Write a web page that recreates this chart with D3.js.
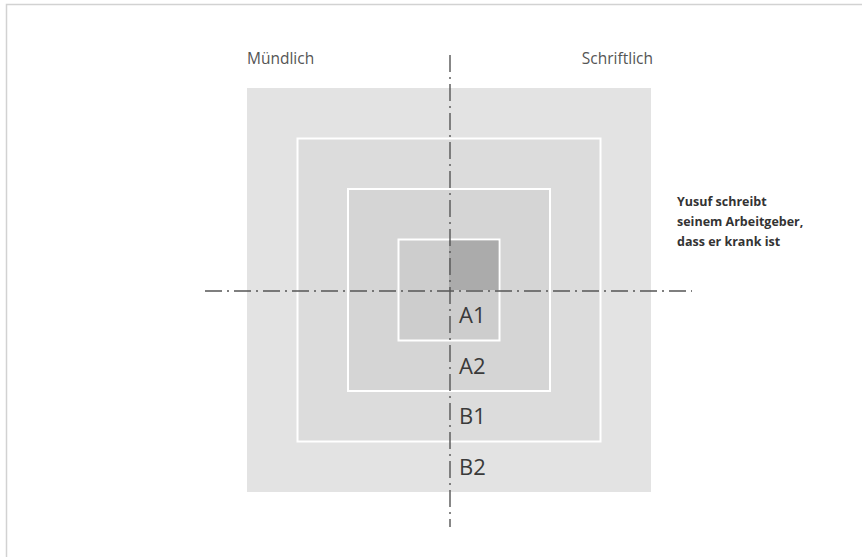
<!DOCTYPE html>
<html><head><meta charset="utf-8">
<script src="https://cdn.jsdelivr.net/npm/d3@7"></script>
<style>body{margin:0;background:#fff}svg{display:block}</style>
</head><body>
<script>
const levels = ["A1", "A2", "B1", "B2"];
const levelColors = ["#cdcdcd", "#d5d5d5", "#dcdcdc", "#e3e3e3"];
const axisLabels = ["Mündlich", "Schriftlich"];
const noteLines = ["Yusuf schreibt", "seinem Arbeitgeber,", "dass er krank ist"];
const highlight = {level: "A1", quadrant: "oben-rechts", color: "#ababab"};

const W = 862, H = 557;
const cx = 449, cy = 290;
const svg = d3.select("body").append("svg").attr("width", W).attr("height", H);

// frame
svg.append("path").attr("d", `M6.5,${H} V4.5 H${W}`).attr("fill", "none").attr("stroke", "#d2d2d2").attr("stroke-width", 1.5);

const r = d3.scaleLinear().domain([0, levels.length]).range([0, 202]);
const font = "'Open Sans', Lato, sans-serif";

const order = levels.map((d, i) => ({name: d, i, color: levelColors[i]})).reverse();
svg.selectAll("rect.level").data(order).join("rect").attr("class", "level")
  .attr("x", d => cx - r(d.i + 1)).attr("y", d => cy - r(d.i + 1))
  .attr("width", d => 2 * r(d.i + 1)).attr("height", d => 2 * r(d.i + 1))
  .attr("fill", d => d.color)
  .attr("stroke", d => d.i === levels.length - 1 ? "none" : "#fff").attr("stroke-width", 2);

// highlighted quadrant
const hi = levels.indexOf(highlight.level);
svg.append("rect").attr("x", cx).attr("y", cy - r(hi + 1) + 1)
  .attr("width", r(hi + 1) - 1).attr("height", r(hi + 1) - 1).attr("fill", highlight.color);

// dash-dot axes
const dash = "17,5,2,5";
svg.append("line").attr("x1", cx + 1).attr("x2", cx + 1).attr("y1", 55).attr("y2", 527)
  .attr("stroke", "#555").attr("stroke-width", 1.4).attr("stroke-dasharray", dash);
svg.append("line").attr("x1", 205).attr("x2", 692).attr("y1", cy + 1).attr("y2", cy + 1)
  .attr("stroke", "#555").attr("stroke-width", 1.4).attr("stroke-dasharray", dash);

// level labels
svg.selectAll("text.lvl").data(levels.map((d, i) => ({name: d, i}))).join("text").attr("class", "lvl")
  .attr("x", cx + 10).attr("y", d => cy + (r(d.i) + r(d.i + 1)) / 2 - 1)
  .attr("dominant-baseline", "central")
  .attr("font-family", font).attr("font-size", 22).attr("fill", "#3a3a3a").text(d => d.name);

// top labels
svg.append("text").attr("x", cx - r(4)).attr("y", 64).attr("font-family", font).attr("font-size", 15.5)
  .attr("fill", "#555").text(axisLabels[0]);
svg.append("text").attr("x", cx + r(4) + 2).attr("y", 64).attr("text-anchor", "end").attr("font-family", font)
  .attr("font-size", 15.5).attr("fill", "#555").text(axisLabels[1]);

// note
svg.append("text").attr("font-family", font).attr("font-size", 12.5).attr("font-weight", "bold").attr("fill", "#333")
  .selectAll("tspan").data(noteLines).join("tspan").attr("x", 677).attr("y", (d, i) => 206 + i * 20).text(d => d);
</script>
</body></html>
